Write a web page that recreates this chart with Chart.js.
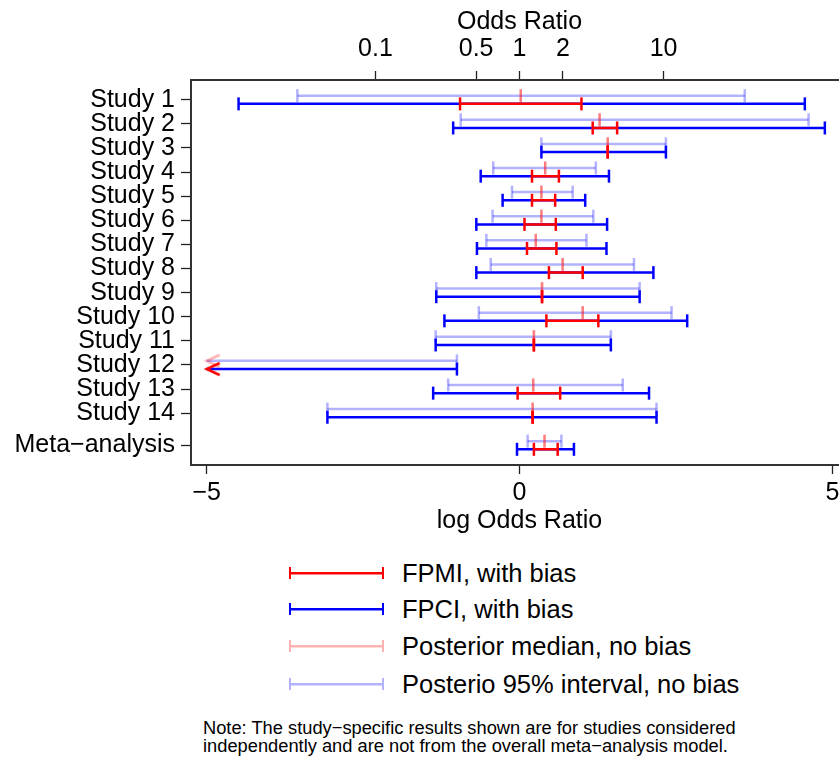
<!DOCTYPE html>
<html>
<head>
<meta charset="utf-8">
<script src="https://cdn.jsdelivr.net/npm/chart.js@4.4.1/dist/chart.umd.min.js"></script>
<style>
  html, body { margin: 0; padding: 0; background: #fff; overflow: hidden; }
  body { width: 839px; height: 762px; position: relative; font-family: "Liberation Sans", Arial, Helvetica, sans-serif; color: #000; }
  #wrap { position: absolute; left: 0; top: 0; width: 860px; height: 540px; }
  .sample { position: absolute; left: 289px; width: 95px; height: 12px; box-sizing: border-box; }
  .lab { position: absolute; left: 402px; font-size: 25.5px; line-height: 30px; white-space: nowrap; }
  #note { position: absolute; left: 203px; top: 719px; font-size: 18.3px; line-height: 18px; white-space: nowrap; }
</style>
</head>
<body>
<div id="wrap"><canvas id="forest" width="860" height="540"></canvas></div>
<div id="legend"></div>
<div id="note">Note: The study&minus;specific results shown are for studies considered<br>independently and are not from the overall meta&minus;analysis model.</div>
<script>
const studyLabels = ['Study 1', 'Study 2', 'Study 3', 'Study 4', 'Study 5', 'Study 6', 'Study 7',
    'Study 8', 'Study 9', 'Study 10', 'Study 11', 'Study 12', 'Study 13', 'Study 14', 'Meta\u2212analysis'];
const rowPos = [1, 2, 3, 4, 5, 6, 7, 8, 9, 10, 11, 12, 13, 14, 15.33];

// log odds ratios, no bias adjustment (-Infinity = beyond the left end of the axis)
const postLo  = [-3.55, -0.94, 0.35, -0.42, -0.12, -0.43, -0.53, -0.46, -1.33, -0.65, -1.34, -Infinity, -1.14, -3.07, 0.13];
const postHi  = [3.60, 4.62, 2.34, 1.22, 0.85, 1.18, 1.07, 1.83, 1.92, 2.43, 1.46, -1.00, 1.65, 2.19, 0.67];
const postMed = [0.02, 1.28, 1.41, 0.41, 0.35, 0.35, 0.26, 0.69, 0.36, 1.01, 0.23, -Infinity, 0.22, 0.21, 0.40];

// with bias
const fpciLo = [-4.49, -1.06, 0.35, -0.62, -0.27, -0.69, -0.68, -0.69, -1.33, -1.20, -1.34, -Infinity, -1.38, -3.07, -0.04];
const fpciHi = [4.56, 4.88, 2.34, 1.43, 1.05, 1.40, 1.39, 2.14, 1.92, 2.68, 1.46, -1.00, 2.07, 2.19, 0.87];
const fpmiLo = [-0.95, 1.17, 1.41, 0.20, 0.20, 0.08, 0.12, 0.47, 0.36, 0.43, 0.23, -Infinity, -0.03, 0.21, 0.23];
const fpmiHi = [0.99, 1.56, 1.41, 0.63, 0.57, 0.58, 0.59, 1.01, 0.36, 1.26, 0.23, -Infinity, 0.65, 0.21, 0.61];

const logTicks = [-5, 0, 5];
const oddsTicks = [0.1, 0.5, 1, 2, 10];

const RED = '#ff0000';
const BLUE = '#0000ff';
const PINK = 'rgba(255, 0, 0, 0.3)';
const LIGHTBLUE = 'rgba(0, 0, 255, 0.3)';

const CLIP = -5;      // values left of this get an arrow at the axis edge
const SHIFT = 0.17;   // upper line = no bias, lower line = with bias
const CAP = 6.5;
const FONT = { family: '"Liberation Sans", Arial, Helvetica, sans-serif', size: 25 };

function intervals(lo, hi, shift) {
    const pts = [];
    lo.forEach((l, i) => {
        if (hi[i] < CLIP) return;
        const y = rowPos[i] + shift;
        pts.push({ x: Math.max(l, CLIP), y: y, open: l < CLIP });
        pts.push({ x: hi[i], y: y, open: false });
        pts.push({ x: null, y: null });
    });
    return pts;
}

function arrows(hi, shift) {
    const pts = [];
    hi.forEach((h, i) => {
        if (h < CLIP) pts.push({ x: CLIP, y: rowPos[i] + shift });
    });
    return pts;
}

function chevron(color) {
    const c = document.createElement('canvas');
    c.width = 30; c.height = 16;
    const g = c.getContext('2d');
    g.strokeStyle = color;
    g.lineWidth = 2.5;
    g.beginPath();
    g.moveTo(28, 2);
    g.lineTo(15, 8);
    g.lineTo(28, 14);
    g.stroke();
    return c;
}

function barSet(label, data, color) {
    return {
        label: label,
        data: data,
        showLine: true,
        spanGaps: false,
        borderColor: color,
        borderWidth: 2.5,
        pointStyle: 'line',
        pointRotation: 90,
        pointRadius: ctx => (ctx.raw && ctx.raw.open) ? 0 : CAP,
        pointBorderWidth: 2.5,
        pointBorderColor: color,
        pointBackgroundColor: color
    };
}

function arrowSet(label, data, color) {
    return {
        label: label,
        data: data,
        showLine: false,
        pointStyle: chevron(color),
        pointRadius: 3
    };
}

// first dataset is drawn on top
const datasets = [
    arrowSet('FPMI arrow', arrows(fpmiHi, SHIFT), RED),
    arrowSet('median arrow', arrows(postMed, -SHIFT), PINK),
    barSet('FPMI, with bias', intervals(fpmiLo, fpmiHi, SHIFT), RED),
    barSet('FPCI, with bias', intervals(fpciLo, fpciHi, SHIFT), BLUE),
    barSet('Posterior median, no bias', intervals(postMed, postMed, -SHIFT), PINK),
    barSet('Posterio 95% interval, no bias', intervals(postLo, postHi, -SHIFT), LIGHTBLUE)
];

const tickGrid = { drawOnChartArea: false, drawTicks: true, tickColor: '#222', tickWidth: 1.3 };
const frame = { display: true, color: '#333', width: 2 };

new Chart(document.getElementById('forest'), {
    type: 'scatter',
    data: { datasets: datasets },
    options: {
        responsive: false,
        animation: false,
        events: [],
        layout: { padding: { left: 0, top: 0, right: 12, bottom: 0 } },
        plugins: { legend: { display: false }, tooltip: { enabled: false } },
        scales: {
            x: {
                type: 'linear',
                position: 'bottom',
                min: -5.25,
                max: 5.25,
                afterBuildTicks: s => { s.ticks = logTicks.map(v => ({ value: v })); },
                afterFit: s => { s.height = 75; },
                ticks: {
                    callback: v => v < 0 ? '\u2212' + Math.abs(v) : String(v),
                    font: FONT, color: '#000', padding: 4, autoSkip: false, maxRotation: 0
                },
                grid: Object.assign({ tickLength: 9 }, tickGrid),
                border: frame,
                title: { display: true, text: 'log Odds Ratio', font: FONT, color: '#000', padding: { top: 0, bottom: 4 } }
            },
            x2: {
                type: 'linear',
                axis: 'x',
                position: 'top',
                min: -5.25,
                max: 5.25,
                afterBuildTicks: s => { s.ticks = oddsTicks.map(o => ({ value: Math.log(o) })); },
                afterFit: s => { s.height = 80; },
                ticks: {
                    callback: (v, i) => String(oddsTicks[i]),
                    font: FONT, color: '#000', padding: 7, autoSkip: false, maxRotation: 0
                },
                grid: Object.assign({ tickLength: 9 }, tickGrid),
                border: frame,
                title: { display: true, text: 'Odds Ratio', font: FONT, color: '#000', padding: { top: 7, bottom: 0 } }
            },
            y: {
                type: 'linear',
                reverse: true,
                min: 0.18,
                max: 16.15,
                afterBuildTicks: s => { s.ticks = rowPos.map(v => ({ value: v })); },
                afterFit: s => { s.width = 191; },
                ticks: {
                    callback: (v, i) => studyLabels[i],
                    font: FONT, color: '#000', padding: 6, autoSkip: false
                },
                grid: Object.assign({ tickLength: 10 }, tickGrid),
                border: frame
            }
        }
    }
});

// legend under the plot
const legendEntries = [
    { text: 'FPMI, with bias', color: RED },
    { text: 'FPCI, with bias', color: BLUE },
    { text: 'Posterior median, no bias', color: PINK },
    { text: 'Posterio 95% interval, no bias', color: LIGHTBLUE }
];
const legendRows = [573, 609, 646, 684];
const legend = document.getElementById('legend');
legendEntries.forEach((e, i) => {
    const s = document.createElement('div');
    s.className = 'sample';
    s.style.top = (legendRows[i] - 6) + 'px';
    s.style.borderLeft = '2.5px solid ' + e.color;
    s.style.borderRight = '2.5px solid ' + e.color;
    s.style.background = 'linear-gradient(' + e.color + ',' + e.color + ') center / 100% 2.5px no-repeat';
    legend.appendChild(s);
    const t = document.createElement('div');
    t.className = 'lab';
    t.style.top = (legendRows[i] - 15) + 'px';
    t.textContent = e.text;
    legend.appendChild(t);
});
</script>
</body>
</html>
